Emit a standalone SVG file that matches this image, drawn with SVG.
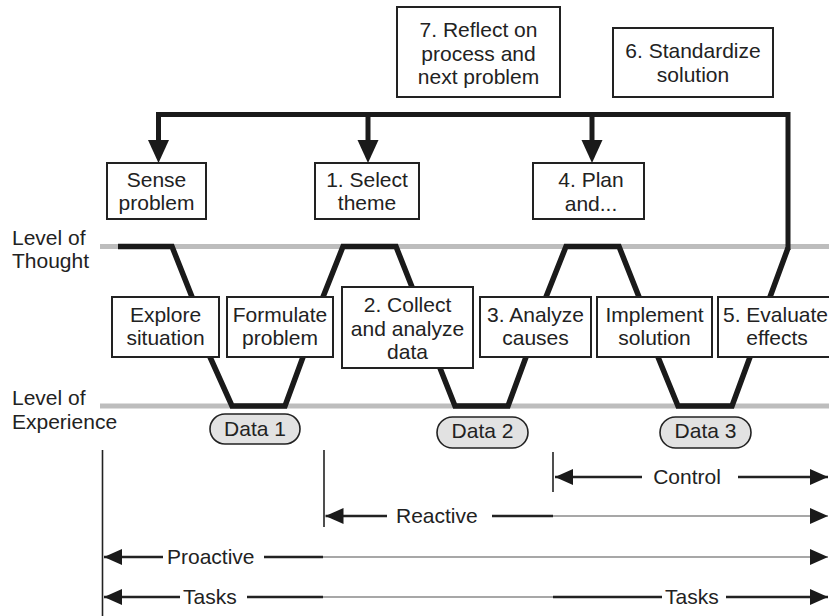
<svg xmlns="http://www.w3.org/2000/svg" xmlns:xlink="http://www.w3.org/1999/xlink" width="829" height="616" viewBox="0 0 829 616">
  <style>
    text { font-family: "Liberation Sans", Arial, sans-serif; font-size: 21px; fill: #222; }
    .c { text-anchor: middle; }
    .box { fill: #fff; stroke: #222; stroke-width: 2; }
    .pill { fill: #e2e2e2; stroke: #222; stroke-width: 1.6; }
    .level { fill: none; stroke: #bdbdbd; stroke-width: 5; }
    .wave { fill: none; stroke: #1a1a1a; stroke-width: 5.5; stroke-linejoin: miter; }
    .bus { fill: none; stroke: #1a1a1a; stroke-width: 5; stroke-linejoin: miter; }
    .tick { fill: none; stroke: #222; stroke-width: 1.6; }
    .span { fill: none; stroke: #222; stroke-width: 2.4; }
    .thin { fill: none; stroke: #8a8a8a; stroke-width: 1.4; }
  </style>
  <defs>
    <polygon id="drop" points="-10.5,0 10.5,0 0,23" fill="#1a1a1a"/>
    <marker id="head" viewBox="0 0 18 16" refX="18" refY="8" markerWidth="18" markerHeight="16" markerUnits="userSpaceOnUse" orient="auto-start-reverse">
      <path d="M0,0 L18,8 L0,16 z" fill="#1a1a1a"/>
    </marker>
  </defs>

  <!-- levels -->
  <g id="levels">
    <line class="level" x1="100" y1="246.5" x2="829" y2="246.5"/>
    <line class="level" x1="100" y1="406" x2="829" y2="406"/>
    <text x="12" y="245">Level of</text>
    <text x="12" y="268">Thought</text>
    <text x="12" y="405">Level of</text>
    <text x="12" y="428.5">Experience</text>
  </g>

  <!-- connectors: the thought/experience path and the feedback bus -->
  <g id="connectors">
    <path class="wave" d="M118,246.5 H172 L192,297 L210,357 L232,406 H285 L303,357 L323,297 L343,246.5 H396 L412,287 L440,368 L455,406 H508 L526,357 L546,297 L566,246.5 H619 L639,297 L658,357 L678,406 H732 L750,357 L770,297 L788,248"/>
    <path class="bus" d="M788,250 V114.5 H158.5 V141"/>
    <path class="bus" d="M368,114.5 V141"/>
    <path class="bus" d="M592,114.5 V141"/>
    <use xlink:href="#drop" x="158.5" y="140"/>
    <use xlink:href="#drop" x="368" y="140"/>
    <use xlink:href="#drop" x="592" y="140"/>
  </g>

  <!-- upper steps -->
  <g id="reflect">
    <rect class="box" x="397" y="7" width="163" height="90"/>
    <text class="c" x="478.5" y="37">7. Reflect on</text>
    <text class="c" x="478.5" y="60.5">process and</text>
    <text class="c" x="478.5" y="84">next problem</text>
  </g>
  <g id="standardize">
    <rect class="box" x="613" y="28" width="160" height="69"/>
    <text class="c" x="693" y="58">6. Standardize</text>
    <text class="c" x="693" y="82">solution</text>
  </g>
  <g id="sense">
    <rect class="box" x="107" y="163" width="99" height="56"/>
    <text class="c" x="156.5" y="187">Sense</text>
    <text class="c" x="156.5" y="210">problem</text>
  </g>
  <g id="select">
    <rect class="box" x="315" y="163" width="104" height="56"/>
    <text class="c" x="367" y="187">1. Select</text>
    <text class="c" x="367" y="210">theme</text>
  </g>
  <g id="plan">
    <rect class="box" x="533" y="163" width="111" height="56"/>
    <text class="c" x="591" y="187">4. Plan</text>
    <text class="c" x="591" y="210.5">and...</text>
  </g>

  <!-- middle steps -->
  <g id="explore">
    <rect class="box" x="112" y="297" width="107" height="60"/>
    <text class="c" x="165.5" y="322">Explore</text>
    <text class="c" x="165.5" y="345">situation</text>
  </g>
  <g id="formulate">
    <rect class="box" x="227" y="297" width="106" height="60"/>
    <text class="c" x="280" y="322">Formulate</text>
    <text class="c" x="280" y="345">problem</text>
  </g>
  <g id="collect">
    <rect class="box" x="342" y="287" width="131" height="81"/>
    <text class="c" x="407.5" y="312">2. Collect</text>
    <text class="c" x="407.5" y="335.5">and analyze</text>
    <text class="c" x="407.5" y="359">data</text>
  </g>
  <g id="analyze">
    <rect class="box" x="480" y="297" width="111" height="60"/>
    <text class="c" x="535.5" y="322">3. Analyze</text>
    <text class="c" x="535.5" y="345">causes</text>
  </g>
  <g id="implement">
    <rect class="box" x="597" y="297" width="115" height="60"/>
    <text class="c" x="654.5" y="322">Implement</text>
    <text class="c" x="654.5" y="345">solution</text>
  </g>
  <g id="evaluate">
    <rect class="box" x="718" y="297" width="122" height="60"/>
    <text class="c" x="775.5" y="322">5. Evaluate</text>
    <text class="c" x="777" y="345">effects</text>
  </g>

  <!-- data gathered at the experience level -->
  <g id="data1">
    <rect class="pill" x="210" y="414" width="90" height="30" rx="15"/>
    <text class="c" x="255" y="435.5">Data 1</text>
  </g>
  <g id="data2">
    <rect class="pill" x="437" y="417" width="91" height="31" rx="15.5"/>
    <text class="c" x="482.5" y="438">Data 2</text>
  </g>
  <g id="data3">
    <rect class="pill" x="660" y="417" width="91" height="31" rx="15.5"/>
    <text class="c" x="705.5" y="438">Data 3</text>
  </g>

  <!-- spans -->
  <g id="spans">
    <line class="tick" x1="102.5" y1="450" x2="102.5" y2="616"/>
    <line class="tick" x1="324" y1="450" x2="324" y2="527"/>
    <line class="tick" x1="553" y1="452" x2="553" y2="492"/>

    <!-- Control -->
    <line class="span" x1="642" y1="477" x2="555" y2="477" marker-end="url(#head)"/>
    <text class="c" x="687" y="484">Control</text>
    <line class="span" x1="738" y1="477" x2="828" y2="477" marker-end="url(#head)"/>

    <!-- Reactive -->
    <line class="span" x1="387" y1="516" x2="325.5" y2="516" marker-end="url(#head)"/>
    <text x="396" y="523">Reactive</text>
    <line class="span" x1="492" y1="516" x2="553" y2="516"/>
    <line class="thin" x1="553" y1="516" x2="828" y2="516" marker-end="url(#head)"/>

    <!-- Proactive -->
    <line class="span" x1="163" y1="557" x2="104" y2="557" marker-end="url(#head)"/>
    <text x="167" y="563.5">Proactive</text>
    <line class="span" x1="264" y1="557" x2="323" y2="557"/>
    <line class="thin" x1="323" y1="557" x2="828" y2="557" marker-end="url(#head)"/>

    <!-- Tasks -->
    <line class="span" x1="180" y1="597" x2="104" y2="597" marker-end="url(#head)"/>
    <text x="183" y="603.5">Tasks</text>
    <line class="span" x1="247" y1="597" x2="323" y2="597"/>
    <line class="thin" x1="323" y1="597" x2="553" y2="597"/>
    <line class="span" x1="553" y1="597" x2="662" y2="597"/>
    <text x="665" y="603.5">Tasks</text>
    <line class="span" x1="726" y1="597" x2="828" y2="597" marker-end="url(#head)"/>
  </g>
</svg>
